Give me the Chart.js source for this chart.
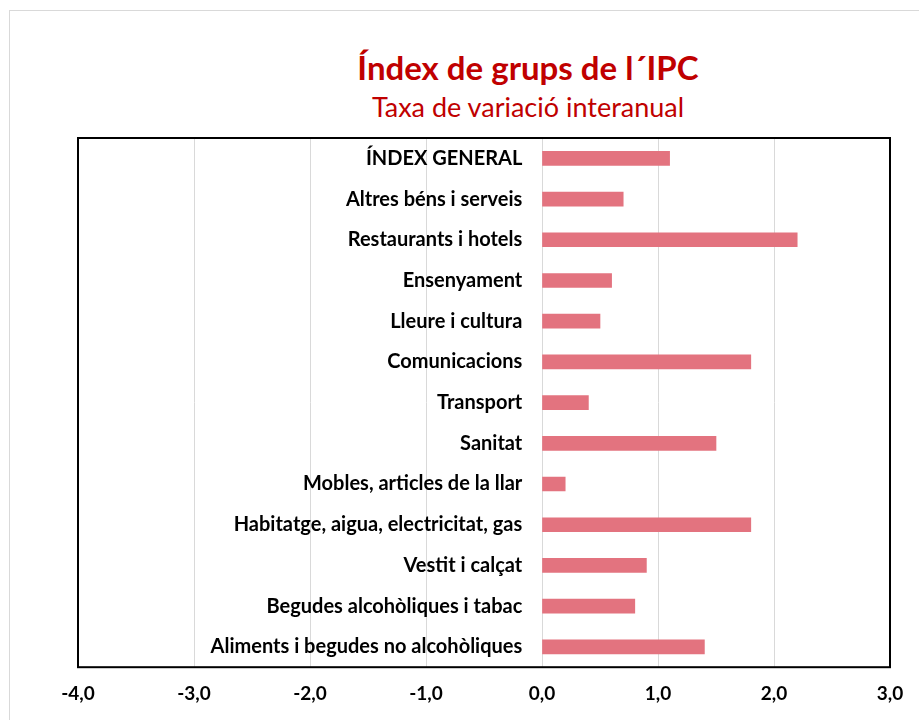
<!DOCTYPE html>
<html>
<head>
<meta charset="utf-8">
<script src="https://cdn.jsdelivr.net/npm/chart.js@4"></script>
<style>
  body { margin: 0; background: #fff; }
  #wrap { position: relative; width: 919px; height: 720px; overflow: hidden; }
  #frame { position: absolute; left: 9px; top: 10px; width: 1000px; height: 800px; border: 1px solid #d9d9d9; }
  .ttl { position: absolute; left: 0; width: 1056px; text-align: center; color: #C00000; font-family: Lato, sans-serif; }
  #t1 { top: 47px; font-size: 33px; font-weight: bold; }
  #t2 { top: 90px; font-size: 27px; }
  canvas { position: absolute; left: 0; top: 0; }
</style>
</head>
<body>
<div id="wrap">
  <div id="frame"></div>
  <div class="ttl" id="t1">Índex de grups de l´IPC</div>
  <div class="ttl" id="t2">Taxa de variació interanual</div>
  <canvas id="myChart" width="919" height="720"></canvas>
</div>
<script>
const categories = [
  'ÍNDEX GENERAL',
  'Altres béns i serveis',
  'Restaurants i hotels',
  'Ensenyament',
  'Lleure i cultura',
  'Comunicacions',
  'Transport',
  'Sanitat',
  'Mobles, articles de la llar',
  'Habitatge, aigua, electricitat, gas',
  'Vestit i calçat',
  'Begudes alcohòliques i tabac',
  'Aliments i begudes no alcohòliques'
]
const values = [1.1, 0.7, 2.2, 0.6, 0.5, 1.8, 0.4, 1.5, 0.2, 1.8, 0.9, 0.8, 1.4]
const xMin = -4
const xMax = 3

// black frame round the plot area
const plotFrame = {
  id: 'plotFrame',
  afterDraw(chart) {
    const a = chart.chartArea
    const c = chart.ctx
    c.save()
    c.strokeStyle = '#000'
    c.lineWidth = 2
    c.strokeRect(a.left, a.top, a.right - a.left, a.bottom - a.top)
    c.restore()
  }
}

const ctx = document.getElementById('myChart')
new Chart(ctx, {
  type: 'bar',
  data: {
    labels: categories,
    datasets: [{
      data: values,
      backgroundColor: '#E3737F',
      borderWidth: 0,
      barThickness: 14
    }]
  },
  options: {
    indexAxis: 'y',
    responsive: false,
    animation: false,
    layout: { padding: { left: 78, right: 29, top: 138, bottom: 0 } },
    plugins: { legend: { display: false }, tooltip: { enabled: false } },
    scales: {
      x: {
        min: xMin,
        max: xMax,
        grid: { color: '#d9d9d9', drawTicks: false },
        border: { display: false },
        ticks: {
          stepSize: 1,
          padding: 15,
          color: '#000',
          font: { family: 'Lato', size: 19, weight: 'bold' },
          callback: v => v.toFixed(1).replace('.', ',')
        }
      },
      y: {
        // labels sit just left of the zero line
        position: { x: -0.17 },
        grid: { display: false, drawTicks: false },
        border: { display: false },
        ticks: {
          color: '#000',
          font: { family: 'Lato', size: 20, weight: 'bold' }
        }
      }
    }
  },
  plugins: [plotFrame]
})
</script>
</body>
</html>
